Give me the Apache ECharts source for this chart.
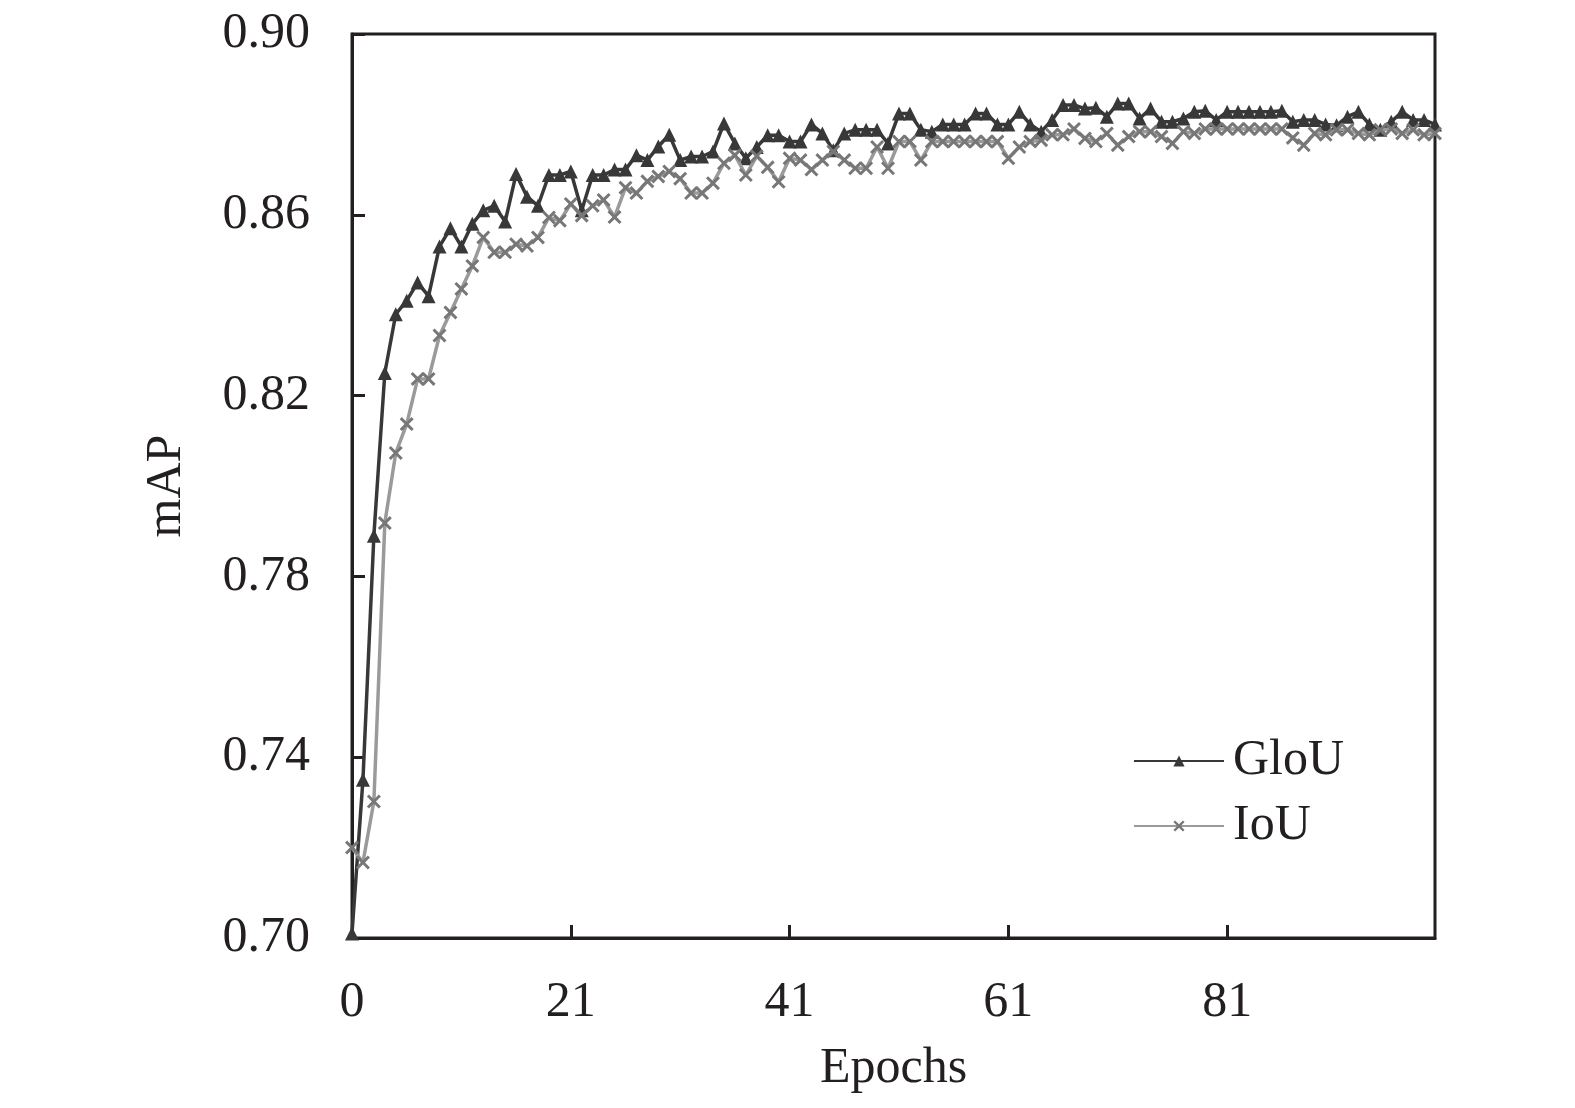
<!DOCTYPE html>
<html>
  <head>
    <meta charset="utf-8" />
    <script src="https://cdn.jsdelivr.net/npm/echarts@6/dist/echarts.min.js"></script>
  </head>
  <body>
    <style>
      #main,
      html,
      body {
        width: 100%;
        height: 100%;
        margin: 0;
        overflow: hidden;
        background: #fff;
      }
    </style>
    <div id="main"></div>
    <script type="text/javascript">
      // epochs 1..100, the first tick is printed as "0"
      var epochs = [];
      for (var e = 1; e <= 100; e++) epochs.push(String(e));
      var xTickLabels = ['0', '21', '41', '61', '81'];
      var yTickLabels = ['0.70', '0.74', '0.78', '0.82', '0.86', '0.90'];

      var giouMAP = [
        0.701, 0.735, 0.789, 0.825, 0.838, 0.841, 0.845, 0.842, 0.853, 0.857,
        0.853, 0.858, 0.861, 0.862, 0.8585, 0.869, 0.864, 0.862, 0.8688, 0.8688,
        0.8696, 0.861, 0.8688, 0.8688, 0.870, 0.870, 0.8732, 0.8721, 0.8751, 0.8777,
        0.8721, 0.8729, 0.8729, 0.874, 0.8802, 0.8758, 0.8725, 0.875, 0.8776, 0.8776,
        0.8762, 0.8762, 0.880, 0.878, 0.8743, 0.878, 0.8788, 0.8788, 0.8788, 0.8758,
        0.8824, 0.8824, 0.8788, 0.8784, 0.880, 0.880, 0.880, 0.8824, 0.8824, 0.880,
        0.880, 0.8828, 0.880, 0.8784, 0.881, 0.8843, 0.8843, 0.8835, 0.8837, 0.8817,
        0.8846, 0.8846, 0.8813, 0.8835, 0.8806, 0.8806, 0.8813, 0.8828, 0.883, 0.881,
        0.8828, 0.8828, 0.8828, 0.8828, 0.8828, 0.883, 0.8806, 0.881, 0.881, 0.880,
        0.8798, 0.8817, 0.8828, 0.880, 0.8788, 0.8806, 0.8828, 0.881, 0.881, 0.880
      ];

      var iouMAP = [
        0.720, 0.7167, 0.7302, 0.7918, 0.8073, 0.8137, 0.8237, 0.8237, 0.8333, 0.8384,
        0.8436, 0.8487, 0.855, 0.8517, 0.8517, 0.8535, 0.8531, 0.855, 0.8594, 0.8587,
        0.8624, 0.8598, 0.862, 0.8633, 0.8595, 0.866, 0.8648, 0.8674, 0.8685, 0.8696,
        0.868, 0.8648, 0.8648, 0.867, 0.8714, 0.8732, 0.8688, 0.873, 0.8705, 0.8673,
        0.8725, 0.8721, 0.870, 0.8721, 0.874, 0.8721, 0.8703, 0.8703, 0.875, 0.8703,
        0.8762, 0.8762, 0.8721, 0.8762, 0.8762, 0.8762, 0.8762, 0.8762, 0.8762, 0.8762,
        0.8725, 0.875, 0.8762, 0.8765, 0.8777, 0.8777, 0.879, 0.8769, 0.8762, 0.878,
        0.8754, 0.8773, 0.8784, 0.8784, 0.8773, 0.8758, 0.8784, 0.878, 0.879, 0.879,
        0.879, 0.879, 0.879, 0.879, 0.879, 0.879, 0.877, 0.8754, 0.878, 0.8777,
        0.8788, 0.8788, 0.878, 0.8777, 0.8788, 0.879, 0.878, 0.8788, 0.8777, 0.878
      ];

      var seriesNames = ['GloU', 'IoU'];

      var serif = 'Liberation Serif';
      var ink = '#231f20';
      var crossPath = 'path://M0,1.5L1.5,0L5,3.5L8.5,0L10,1.5L6.5,5L10,8.5L8.5,10L5,6.5L1.5,10L0,8.5L3.5,5Z';

      var myChart = echarts.init(document.getElementById('main'));

      var option = {
        animation: false,
        backgroundColor: '#fff',
        grid: {
          left: 352,
          top: 34,
          width: 1083,
          height: 904,
          show: true,
          borderColor: ink,
          borderWidth: 3
        },
        legend: {
          orient: 'vertical',
          left: 1128,
          top: 731,
          itemWidth: 90,
          itemHeight: 14,
          itemGap: 15,
          data: seriesNames,
          textStyle: {
            fontFamily: serif,
            fontSize: 50,
            color: ink,
            padding: [0, 0, 0, 4]
          }
        },
        xAxis: {
          type: 'category',
          data: epochs,
          boundaryGap: false,
          name: 'Epochs',
          nameLocation: 'middle',
          nameGap: 106,
          nameTextStyle: { fontFamily: serif, fontSize: 50, color: ink },
          axisLine: { show: true, lineStyle: { color: ink, width: 3 } },
          axisTick: {
            show: true,
            inside: true,
            length: 13,
            interval: 19,
            lineStyle: { color: ink, width: 3 }
          },
          axisLabel: {
            interval: 19,
            margin: 40,
            fontFamily: serif,
            fontSize: 50,
            color: ink,
            formatter: function (value, index) {
              return xTickLabels[Math.round(index / 20)];
            }
          },
          splitLine: { show: false }
        },
        yAxis: {
          type: 'value',
          min: 0.70,
          max: 0.90,
          interval: 0.04,
          name: 'mAP',
          nameLocation: 'middle',
          nameGap: 160,
          nameTextStyle: { fontFamily: serif, fontSize: 50, color: ink },
          axisLine: { show: true, lineStyle: { color: ink, width: 3 } },
          axisTick: {
            show: true,
            inside: true,
            length: 13,
            lineStyle: { color: ink, width: 3 }
          },
          axisLabel: {
            margin: 42,
            fontFamily: serif,
            fontSize: 50,
            color: ink,
            formatter: function (value) {
              var i = Math.round((value - 0.70) / 0.04);
              return yTickLabels[i];
            }
          },
          splitLine: { show: false }
        },
        series: [
          {
            name: seriesNames[0],
            type: 'line',
            data: giouMAP,
            symbol: 'triangle',
            symbolSize: [14, 14],
            showAllSymbol: true,
            itemStyle: { color: '#383838' },
            lineStyle: { color: '#383838', width: 3.5 },
            z: 2
          },
          {
            name: seriesNames[1],
            type: 'line',
            data: iouMAP,
            symbol: crossPath,
            symbolSize: 14,
            showAllSymbol: true,
            itemStyle: { color: '#777777' },
            lineStyle: { color: '#9a9a9a', width: 3.5 },
            z: 3
          }
        ]
      };

      myChart.setOption(option);
    </script>
  </body>
</html>
